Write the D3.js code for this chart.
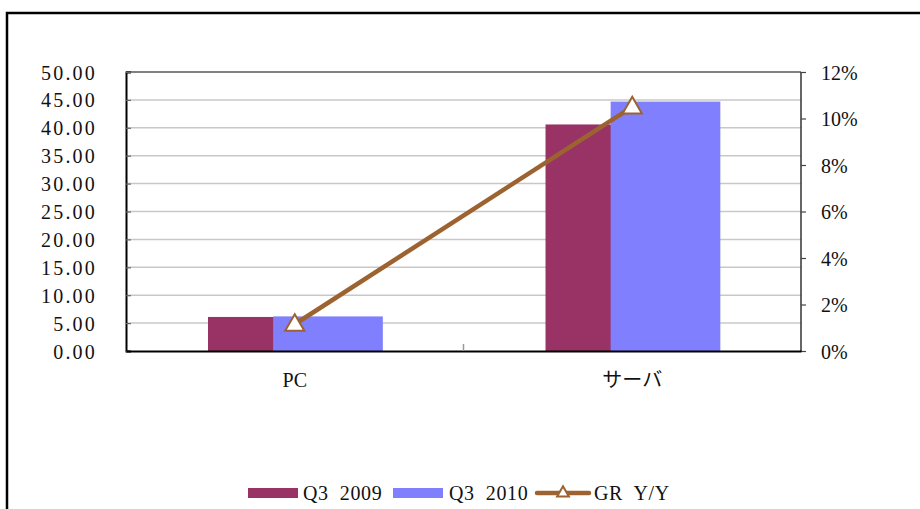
<!DOCTYPE html>
<html>
<head>
<meta charset="utf-8">
<script src="https://cdn.jsdelivr.net/npm/d3@7"></script>
<style>
  html, body { margin: 0; padding: 0; background: #fff; }
  svg { display: block; }
  text { font-family: "Liberation Serif", "Noto Sans CJK JP", serif; fill: #111; }
</style>
</head>
<body>
<svg id="chart" width="920" height="509"></svg>
<script>
const categories = ["PC", "サーバ"];
const seriesNames = ["Q3 2009", "Q3 2010", "GR Y/Y"];
const q3_2009 = [6.1, 40.6];
const q3_2010 = [6.2, 44.7];
const growth = [0.0115, 0.105];
const leftTicks = [0, 5, 10, 15, 20, 25, 30, 35, 40, 45, 50];
const rightTicks = [0, 0.02, 0.04, 0.06, 0.08, 0.10, 0.12];

const colors = { q2009: "#993366", q2010: "#8080FF", line: "#9C6330", grid: "#C8C8C8" };

const svg = d3.select("#chart");
const m = { left: 126, top: 72, right: 801, bottom: 351 };

// outer frame
svg.append("rect")
  .attr("x", 7).attr("y", 13).attr("width", 940).attr("height", 520)
  .attr("fill", "none").attr("stroke", "#000").attr("stroke-width", 2.5);

const x = d3.scaleBand().domain(categories).range([m.left, m.right]).padding(0);
const yL = d3.scaleLinear().domain([0, 50]).range([m.bottom, m.top]);
const yR = d3.scaleLinear().domain([0, 0.12]).range([m.bottom, m.top]);

// gridlines
svg.append("g").selectAll("line").data(leftTicks.filter(t => t > 0 && t < 50)).join("line")
  .attr("x1", m.left).attr("x2", m.right)
  .attr("y1", d => yL(d)).attr("y2", d => yL(d))
  .attr("stroke", colors.grid).attr("stroke-width", 1.5);

// bars
const bw = x.bandwidth();
const barW = bw * 0.325;
const off2009 = bw * 0.243;
const off2010 = off2009 + bw * 0.193;

svg.append("g").selectAll("rect").data(categories).join("rect")
  .attr("x", d => x(d) + off2009)
  .attr("width", barW)
  .attr("y", (d, i) => yL(q3_2009[i]))
  .attr("height", (d, i) => yL(0) - yL(q3_2009[i]))
  .attr("fill", colors.q2009);

svg.append("g").selectAll("rect").data(categories).join("rect")
  .attr("x", d => x(d) + off2010)
  .attr("width", barW)
  .attr("y", (d, i) => yL(q3_2010[i]))
  .attr("height", (d, i) => yL(0) - yL(q3_2010[i]))
  .attr("fill", colors.q2010);

// plot frame
svg.append("line").attr("x1", m.left).attr("x2", m.right).attr("y1", m.top).attr("y2", m.top)
  .attr("stroke", "#808080").attr("stroke-width", 2);
svg.append("line").attr("x1", m.right).attr("x2", m.right).attr("y1", m.top).attr("y2", m.bottom)
  .attr("stroke", "#333").attr("stroke-width", 1.5);

// left axis
const leftAxis = d3.axisLeft(yL).tickValues(leftTicks).tickSize(-5).tickPadding(0)
  .tickFormat(d3.format(".2f"));
const gL = svg.append("g").attr("transform", `translate(${m.left},0)`).call(leftAxis);
gL.select(".domain").attr("stroke", "#000").attr("stroke-width", 2);
gL.selectAll(".tick line").attr("stroke", "#666").attr("stroke-width", 1.2);
gL.selectAll(".tick text").attr("x", -29).attr("dy", "0.35em")
  .style("font-size", "20px").attr("letter-spacing", "2.2px");

// right axis
const rightAxis = d3.axisRight(yR).tickValues(rightTicks).tickSize(5).tickPadding(0)
  .tickFormat(d3.format(".0%"));
const gR = svg.append("g").attr("transform", `translate(${m.right},0)`).call(rightAxis);
gR.select(".domain").remove();
gR.selectAll(".tick line").attr("stroke", "#444").attr("stroke-width", 1.2);
gR.selectAll(".tick text").attr("x", 20).attr("dy", "0.35em")
  .style("font-size", "20px").attr("text-anchor", "start");

// bottom axis
const bottomAxis = d3.axisBottom(x).tickSize(0).tickPadding(0);
const gB = svg.append("g").attr("transform", `translate(0,${m.bottom})`).call(bottomAxis);
gB.select(".domain").attr("stroke", "#000").attr("stroke-width", 2);
gB.selectAll(".tick text").attr("y", 29).attr("dy", "0.35em").style("font-size", "20px");
// category separator tick
svg.append("line").attr("x1", x(categories[1])).attr("x2", x(categories[1]))
  .attr("y1", m.bottom - 7).attr("y2", m.bottom)
  .attr("stroke", "#999").attr("stroke-width", 1.5);

// growth line
const cx = d => x(d) + bw / 2;
const line = d3.line().x((d, i) => cx(categories[i])).y(d => yR(d));
svg.append("path").datum(growth).attr("d", line)
  .attr("fill", "none").attr("stroke", colors.line).attr("stroke-width", 4.5);

const tri = d3.symbol().type(d3.symbolTriangle).size(160);
svg.append("g").selectAll("path").data(growth).join("path")
  .attr("transform", (d, i) => `translate(${cx(categories[i])},${yR(d) + 1})`)
  .attr("d", tri)
  .attr("fill", "#fff").attr("stroke", colors.line).attr("stroke-width", 2);

// legend
const lg = svg.append("g").style("font-size", "20px");
const legY = 493;
lg.append("rect").attr("x", 248).attr("y", legY - 5).attr("width", 50).attr("height", 10).attr("fill", colors.q2009);
lg.append("text").attr("x", 303).attr("y", legY).attr("dy", "0.35em")
  .style("white-space", "pre").attr("letter-spacing", "0.6px").text(seriesNames[0].replace(" ", "  "));
lg.append("rect").attr("x", 393).attr("y", legY - 5).attr("width", 50).attr("height", 10).attr("fill", colors.q2010);
lg.append("text").attr("x", 449).attr("y", legY).attr("dy", "0.35em")
  .style("white-space", "pre").attr("letter-spacing", "0.6px").text(seriesNames[1].replace(" ", "  "));
lg.append("line").attr("x1", 537).attr("x2", 589).attr("y1", legY).attr("y2", legY)
  .attr("stroke", colors.line).attr("stroke-width", 4.5).attr("stroke-linecap", "round");
lg.append("path").attr("transform", `translate(563,${legY})`).attr("d", d3.symbol().type(d3.symbolTriangle).size(60))
  .attr("fill", "#fff").attr("stroke", colors.line).attr("stroke-width", 2);
lg.append("text").attr("x", 594).attr("y", legY).attr("dy", "0.35em")
  .style("white-space", "pre").attr("letter-spacing", "0.6px").text(seriesNames[2].replace(" ", "  "));
</script>
</body>
</html>
